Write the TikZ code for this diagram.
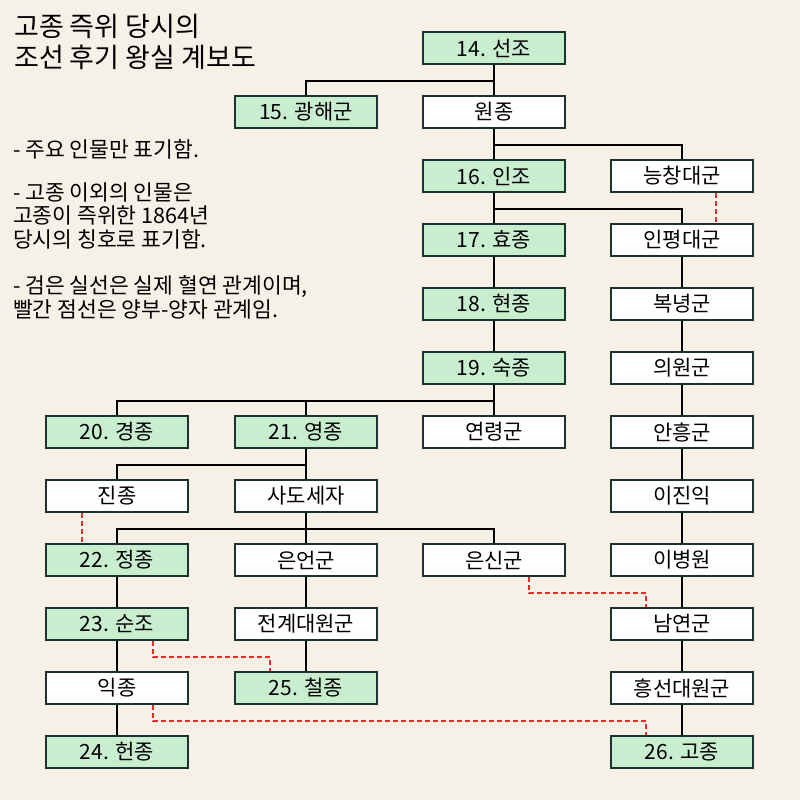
\documentclass[tikz,border=0pt]{standalone}
\usepackage{fontspec}
\setmainfont{Noto Sans CJK KR}
\usepackage{tikz}
\definecolor{paper}{HTML}{F6F1E7}
\definecolor{kinggreen}{HTML}{C8EDCF}
\definecolor{boxline}{HTML}{1D3230}
\definecolor{adoptred}{HTML}{D9342B}

\begin{document}
\begin{tikzpicture}[x=1pt,y=-1pt,
  person/.style={draw=boxline,line width=2pt,fill=white,minimum width=142pt,minimum height=32pt,
    inner sep=0pt,font=\fontsize{21}{24}\selectfont},
  king/.style={person,fill=kinggreen},
  note/.style={anchor=base west,align=left,font=\fontsize{21.5}{23.5}\selectfont,inner sep=0pt},
  blood/.style={line width=1.8pt,black},
  adopt/.style={line width=1.8pt,adoptred,dash pattern=on 5pt off 3pt}]
\fill[paper] (0,0) rectangle (800,800);
\useasboundingbox (0,0) rectangle (800,800);

% title and notes (base = last line)
\node[anchor=base west,align=left,font=\fontsize{27}{31}\selectfont,inner sep=0pt] (title) at (14,67)
  {고종 즉위 당시의\\조선 후기 왕실 계보도};
\node[note] (noteA) at (13,157) {- 주요 인물만 표기함.};
\node[note] (noteB) at (13,247) {- 고종 이외의 인물은\\고종이 즉위한 1864년\\당시의 칭호로 표기함.};
\node[note] (noteC) at (13,317) {- 검은 실선은 실제 혈연 관계이며,\\빨간 점선은 양부-양자 관계임.};

% persons
\node[king] (seonjo) at (494,48) {14. 선조};
\node[king] (gwanghae) at (306,112) {15. 광해군};
\node[person] (wonjong) at (494,112) {원종};
\node[king] (injo) at (494,176) {16. 인조};
\node[person] (neungchang) at (682,176) {능창대군};
\node[king] (hyojong) at (494,240) {17. 효종};
\node[person] (inpyeong) at (682,240) {인평대군};
\node[king] (hyeonjong) at (494,304) {18. 현종};
\node[person] (bongnyeong) at (682,304) {복녕군};
\node[king] (sukjong) at (494,368) {19. 숙종};
\node[person] (uiwon) at (682,368) {의원군};
\node[king] (gyeongjong) at (117,432) {20. 경종};
\node[king] (yeongjong) at (306,432) {21. 영종};
\node[person] (yeollyeong) at (494,432) {연령군};
\node[person] (anheung) at (682,432) {안흥군};
\node[person] (jinjong) at (117,496) {진종};
\node[person] (sado) at (306,496) {사도세자};
\node[person] (jinik) at (682,496) {이진익};
\node[king] (jeongjong) at (117,560) {22. 정종};
\node[person] (euneon) at (306,560) {은언군};
\node[person] (eunsin) at (494,560) {은신군};
\node[person] (byeongwon) at (682,560) {이병원};
\node[king] (sunjo) at (117,624) {23. 순조};
\node[person] (jeongye) at (306,624) {전계대원군};
\node[person] (namyeon) at (682,624) {남연군};
\node[person] (ikjong) at (117,688) {익종};
\node[king] (cheoljong) at (306,688) {25. 철종};
\node[person] (heungseon) at (682,688) {흥선대원군};
\node[king] (heonjong) at (117,752) {24. 헌종};
\node[king] (gojong) at (682,752) {26. 고종};

% blood lines
\draw[blood] (seonjo) -- (wonjong);
\draw[blood] (seonjo.south) -- ++(0,16) -| (gwanghae.north);
\draw[blood] (wonjong) -- (injo);
\draw[blood] (wonjong.south) -- ++(0,16) -| (neungchang.north);
\draw[blood] (injo) -- (hyojong);
\draw[blood] (injo.south) -- ++(0,16) -| (inpyeong.north);
\draw[blood] (hyojong) -- (hyeonjong) -- (sukjong) -- (yeollyeong);
\draw[blood] (sukjong.south) -- ++(0,16) -| (gyeongjong.north);
\draw[blood] (sukjong.south) -- ++(0,16) -| (yeongjong.north);
\draw[blood] (yeongjong) -- (sado);
\draw[blood] (yeongjong.south) -- ++(0,16) -| (jinjong.north);
\draw[blood] (sado) -- (euneon);
\draw[blood] (sado.south) -- ++(0,16) -| (jeongjong.north);
\draw[blood] (sado.south) -- ++(0,16) -| (eunsin.north);
\draw[blood] (euneon) -- (jeongye) -- (cheoljong);
\draw[blood] (jeongjong) -- (sunjo) -- (ikjong) -- (heonjong);
\draw[blood] (inpyeong) -- (bongnyeong) -- (uiwon) -- (anheung) -- (jinik)
  -- (byeongwon) -- (namyeon) -- (heungseon) -- (gojong);

% adoptions
\draw[adopt] ([xshift=34pt]neungchang.south) -- ([xshift=34pt]inpyeong.north);
\draw[adopt] ([xshift=-35pt]jinjong.south) -- ([xshift=-35pt]jeongjong.north);
\draw[adopt] ([xshift=36pt]sunjo.south) -- ++(0,16) -| ([xshift=-36pt]cheoljong.north);
\draw[adopt] ([xshift=36pt]ikjong.south) -- ++(0,16) -| ([xshift=-36pt]gojong.north);
\draw[adopt] ([xshift=35pt]eunsin.south) -- ++(0,16) -| ([xshift=-36pt]namyeon.north);
\end{tikzpicture}
\end{document}
